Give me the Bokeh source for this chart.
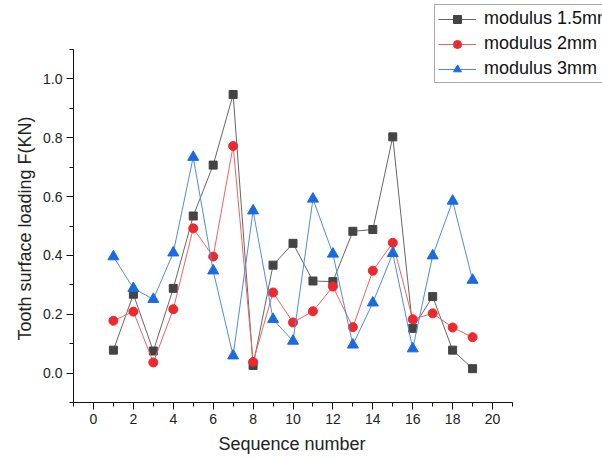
from bokeh.plotting import figure
from bokeh.models import Range1d, FixedTicker, PrintfTickFormatter, Legend, LegendItem, Title
from bokeh.embed import file_html
from bokeh.resources import INLINE

# Data
seq = list(range(1, 20))
mod_15 = [0.078, 0.268, 0.075, 0.288, 0.534, 0.707, 0.947, 0.026, 0.367, 0.441,
          0.313, 0.311, 0.482, 0.488, 0.803, 0.152, 0.260, 0.078, 0.015]
mod_2 = [0.178, 0.209, 0.036, 0.217, 0.492, 0.396, 0.772, 0.038, 0.274, 0.172,
         0.210, 0.294, 0.156, 0.348, 0.443, 0.183, 0.203, 0.155, 0.122]
mod_3 = [0.396, 0.288, 0.251, 0.409, 0.734, 0.348, 0.059, 0.552, 0.183, 0.109,
         0.592, 0.405, 0.096, 0.239, 0.407, 0.083, 0.399, 0.585, 0.316]
labels = ["modulus 1.5mm", "modulus 2mm", "modulus 3mm"]
x_title = "Sequence number"
y_title = "Tooth surface loading F(KN)"
x_major = [0, 2, 4, 6, 8, 10, 12, 14, 16, 18, 20]
x_minor = [-1, 1, 3, 5, 7, 9, 11, 13, 15, 17, 19, 21]
y_major = [0.0, 0.2, 0.4, 0.6, 0.8, 1.0]
y_minor = [-0.1, 0.1, 0.3, 0.5, 0.7, 0.9, 1.1]
x_axis_bounds = (-1, 21)
y_axis_bounds = (-0.1, 1.1)

FONT = "Liberation Sans"

# The frame is extended to the right and top so the legend (which overlaps
# the corner and runs off the page in the reference) is not clipped; the
# axes themselves are limited with bounds.
p = figure(width=602, height=460, output_backend="svg", toolbar_location=None,
           x_range=Range1d(-1, 25.51), y_range=Range1d(-0.1, 1.2666),
           min_border_left=73, min_border_right=0, min_border_top=0, min_border_bottom=58)
p.outline_line_color = None
p.xgrid.visible = False
p.ygrid.visible = False

p.xaxis.ticker = FixedTicker(ticks=x_major, minor_ticks=x_minor)
p.yaxis.ticker = FixedTicker(ticks=y_major, minor_ticks=y_minor)
p.xaxis.bounds = x_axis_bounds
p.yaxis.bounds = y_axis_bounds
p.yaxis.formatter = PrintfTickFormatter(format="%.1f")

for ax in (p.xaxis[0], p.yaxis[0]):
    ax.axis_line_color = "#111111"
    ax.major_tick_line_color = "#111111"
    ax.minor_tick_line_color = "#111111"
    ax.major_tick_in = 0
    ax.major_tick_out = 7
    ax.minor_tick_in = 0
    ax.minor_tick_out = 4
    ax.major_label_text_font = FONT
    ax.major_label_text_font_size = "14px"
    ax.major_label_text_color = "#222222"
    ax.major_label_standoff = 4

# Axis titles placed along the axis extent (not the enlarged frame)
xt = Title(text=x_title, align="left", offset=145, standoff=10,
           text_font=FONT, text_font_size="18px", text_font_style="normal",
           text_color="#222222")
p.add_layout(xt, "below")
yt = Title(text=y_title, align="left", offset=62, standoff=11,
           text_font=FONT, text_font_size="18px", text_font_style="normal",
           text_color="#222222")
p.add_layout(yt, "left")

l1 = p.line(seq, mod_15, line_color="#666666", line_width=1)
m1 = p.scatter(seq, mod_15, marker="square", size=8, fill_color="#444444", line_color="#444444")
l2 = p.line(seq, mod_2, line_color="#f06262", line_width=1)
m2 = p.scatter(seq, mod_2, marker="circle", size=9, fill_color="#ec2a2e", line_color="#ec2a2e")
l3 = p.line(seq, mod_3, line_color="#4d8ddf", line_width=1)
m3 = p.scatter(seq, mod_3, marker="triangle", size=11, fill_color="#1a6ae0", line_color="#1a6ae0")

legend = Legend(items=[LegendItem(label=labels[0], renderers=[l1, m1]),
                       LegendItem(label=labels[1], renderers=[l2, m2]),
                       LegendItem(label=labels[2], renderers=[l3, m3])],
                location=(361, 319))
legend.label_text_font = FONT
legend.label_text_font_size = "18px"
legend.label_text_color = "#111111"
legend.glyph_width = 38
legend.glyph_height = 20
legend.label_height = 20
legend.label_standoff = 8
legend.spacing = 4
legend.padding = 3
legend.margin = 0
legend.border_line_color = "#555555"
legend.border_line_width = 1
legend.background_fill_color = "white"
legend.background_fill_alpha = 1.0
p.add_layout(legend, "center")

open("out.html", "w").write(file_html(p, INLINE))
